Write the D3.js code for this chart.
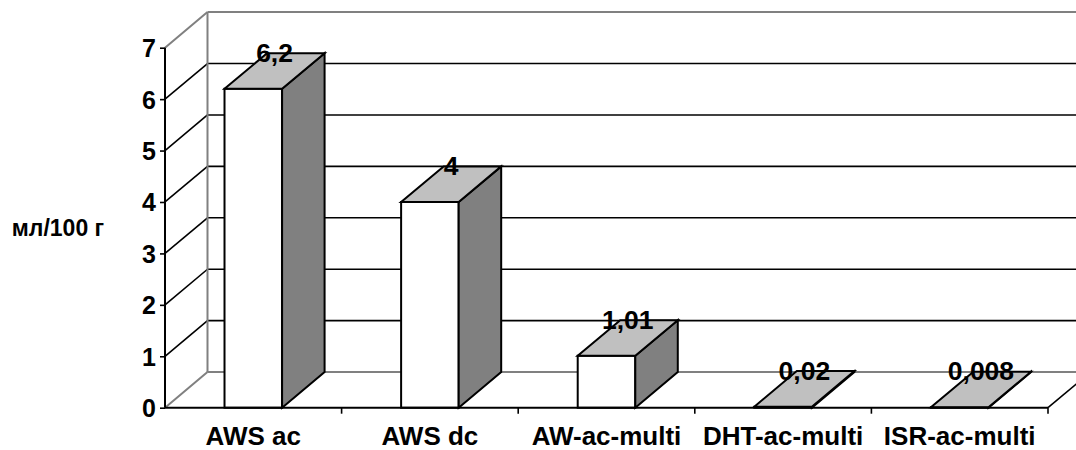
<!DOCTYPE html>
<html>
<head>
<meta charset="utf-8">
<script src="https://cdn.jsdelivr.net/npm/d3@7"></script>
<style>
  html, body { margin: 0; padding: 0; background: #fff; }
  svg { display: block; }
  text { font-family: "Liberation Sans", Arial, sans-serif; font-weight: bold; fill: #000; }
</style>
</head>
<body>
<svg id="chart" width="1076" height="450"></svg>
<script>
// Hydrogen content per welding process
const categories = ["AWS ac", "AWS dc", "AW-ac-multi", "DHT-ac-multi", "ISR-ac-multi"];
const values = [6.2, 4, 1.01, 0.02, 0.008];
const yTicks = [0, 1, 2, 3, 4, 5, 6, 7];
const yTitle = "мл/100 г";

(function () {
const W = 1076, H = 450;
const plotLeft = 165, plotRight = 1048, plotBottom = 407.7, plotTop = 47.7;
const DX = 42.5, DY = -35.6;           // depth offset of the 3-D box
const barFrac = 0.326;                  // bar width relative to category band

const svg = d3.select("#chart");
svg.append("defs").append("clipPath").attr("id", "c")
  .append("rect").attr("width", W).attr("height", H);
const g = svg.append("g").attr("clip-path", "url(#c)");

const x = d3.scaleBand().domain(categories).range([plotLeft, plotRight]).padding(0);
const y = d3.scaleLinear().domain([0, 7]).range([plotBottom, plotTop]);
const fmt = d3.formatLocale({ decimal: ",", thousands: " ", grouping: [3], currency: ["", ""] }).format("~g");

const GRAY = "#808080";
const farRight = plotRight + DX;

// back wall gridlines and side-wall diagonals
yTicks.forEach(t => {
  const yy = y(t);
  const edge = (t === 0 || t === 7);
  const col = edge ? GRAY : "#000";
  g.append("line")
    .attr("x1", plotLeft + DX).attr("x2", farRight + 10)
    .attr("y1", yy + DY).attr("y2", yy + DY)
    .attr("stroke", col).attr("stroke-width", edge ? 2 : 1.6);
  g.append("line")
    .attr("x1", plotLeft).attr("y1", yy)
    .attr("x2", plotLeft + DX).attr("y2", yy + DY)
    .attr("stroke", col).attr("stroke-width", edge ? 2 : 1.6);
});
// back wall left edge
g.append("line")
  .attr("x1", plotLeft + DX).attr("x2", plotLeft + DX)
  .attr("y1", y(7) + DY).attr("y2", y(0) + DY)
  .attr("stroke", GRAY).attr("stroke-width", 2);
// floor right edge
g.append("line")
  .attr("x1", plotRight).attr("y1", y(0))
  .attr("x2", plotRight + DX).attr("y2", y(0) + DY)
  .attr("stroke", "#000").attr("stroke-width", 1.6);

// 3-D bars
const bw = x.bandwidth() * barFrac;
const data = categories.map((c, i) => ({ c, v: values[i] }));
g.selectAll("g.bar").data(data).join("g").attr("class", "bar")
  .each(function (d) {
    const el = d3.select(this);
    const x0 = x(d.c) + (x.bandwidth() - bw) / 2, x1 = x0 + bw;
    const y0 = y(0), y1 = y(d.v);
    const st = s => s.attr("stroke", "#000").attr("stroke-width", 2).attr("stroke-linejoin", "miter");
    // front face
    st(el.append("path")
      .attr("d", `M${x0},${y0}L${x1},${y0}L${x1},${y1}L${x0},${y1}Z`)
      .attr("fill", "#fff"));
    // side face
    st(el.append("path")
      .attr("d", `M${x1},${y0}L${x1 + DX},${y0 + DY}L${x1 + DX},${y1 + DY}L${x1},${y1}Z`)
      .attr("fill", "#808080"));
    // top face
    st(el.append("path")
      .attr("d", `M${x0},${y1}L${x1},${y1}L${x1 + DX},${y1 + DY}L${x0 + DX},${y1 + DY}Z`)
      .attr("fill", "#c0c0c0"));
  });

// axes
const yAxis = d3.axisLeft(y).tickValues(yTicks).tickSize(5).tickPadding(4).tickFormat(d3.format("d"));
const yg = svg.append("g").attr("transform", `translate(${plotLeft},0)`).call(yAxis);
yg.select(".domain").attr("stroke", "#000").attr("stroke-width", 2).attr("d", `M0,${plotTop}V${plotBottom}`);
yg.selectAll(".tick line").attr("stroke", "#000").attr("stroke-width", 1.6);
yg.selectAll(".tick text").attr("font-size", 25).attr("font-family", "Liberation Sans, Arial, sans-serif")
  .attr("font-weight", "bold").attr("fill", "#000").attr("dy", "0.36em");

const xEdges = d3.scaleLinear().domain([0, categories.length]).range([plotLeft, plotRight]);
const xAxisG = svg.append("g");
xAxisG.append("line")
  .attr("x1", plotLeft).attr("x2", plotRight).attr("y1", plotBottom).attr("y2", plotBottom)
  .attr("stroke", "#000").attr("stroke-width", 2);
xAxisG.selectAll("line.tk").data(d3.range(1, categories.length + 1)).join("line")
  .attr("class", "tk")
  .attr("x1", d => xEdges(d)).attr("x2", d => xEdges(d))
  .attr("y1", plotBottom).attr("y2", plotBottom + 6)
  .attr("stroke", "#000").attr("stroke-width", 1.6);
xAxisG.selectAll("text").data(categories).join("text")
  .attr("x", d => x(d) + x.bandwidth() / 2)
  .attr("y", 445)
  .attr("text-anchor", "middle")
  .attr("font-size", 26)
  .text(d => d);

// value labels above the top faces
svg.append("g").selectAll("text").data(data)
  .join("text")
  .attr("x", d => x(d.c) + x.bandwidth() / 2 + DX / 2)
  .attr("y", d => y(d.v) + DY / 2 - 9)
  .attr("text-anchor", "middle")
  .attr("font-size", 26.5)
  .text(d => fmt(d.v));

// y axis title
svg.append("text")
  .attr("x", 58).attr("y", 236)
  .attr("text-anchor", "middle")
  .attr("font-size", 23)
  .text(yTitle);
})();
</script>
</body>
</html>
